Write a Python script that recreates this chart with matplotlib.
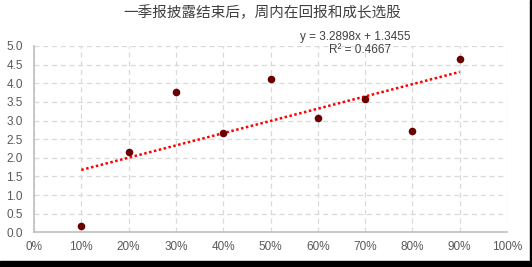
import matplotlib
matplotlib.use("Agg")
import matplotlib.pyplot as plt
from matplotlib.patches import Rectangle
from matplotlib.ticker import FuncFormatter, MultipleLocator
import numpy as np

title = "一季报披露结束后，周内在回报和成长选股"
x_vals = [0.1, 0.2, 0.3, 0.4, 0.5, 0.6, 0.7, 0.8, 0.9]
y_vals = [0.16, 2.16, 3.77, 2.67, 4.11, 3.06, 3.58, 2.73, 4.66]
eq_text = "y = 3.2898x + 1.3455"
r2_text = "R² = 0.4667"

plt.rcParams['font.family'] = ['Liberation Sans', 'Noto Sans CJK SC', 'DejaVu Sans']

W, H = 532, 267
fig = plt.figure(figsize=(W / 100, H / 100), dpi=100)
fig.patch.set_facecolor('white')

# axes in pixel coords: x 34..507, y 46..232
ax = fig.add_axes([34 / W, 1 - 232.3 / H, (507 - 34) / W, (232.3 - 46) / H])
ax.set_xlim(0, 1)
ax.set_ylim(0, 5)

xa = np.array(x_vals)
ya = np.array(y_vals)
k, b = np.polyfit(xa, ya, 1)
xl = np.array([xa.min(), xa.max()])
ax.plot(xl, k * xl + b, color='#FF0000', linestyle=(0, (1, 1)), linewidth=1.8, zorder=3)
ax.scatter(xa, ya, s=30, color='#6B0000', zorder=4, linewidths=0)

ax.xaxis.set_major_locator(MultipleLocator(0.1))
ax.yaxis.set_major_locator(MultipleLocator(0.5))
ax.xaxis.set_major_formatter(FuncFormatter(lambda v, p: f"{v*100:.0f}%"))
ax.yaxis.set_major_formatter(FuncFormatter(lambda v, p: f"{v:.1f}"))
ax.grid(True, color='#D9D9D9', linestyle=(0, (4, 3)), linewidth=0.9)
ax.set_axisbelow(True)
for s in ['top', 'right']:
    ax.spines[s].set_visible(False)
for s in ['left', 'bottom']:
    ax.spines[s].set_color('#BFBFBF')
    ax.spines[s].set_linewidth(1.2)
ax.tick_params(length=0, labelsize=8.5, colors='#595959', pad=6)
ax.tick_params(axis='y', pad=8)

fig.text(262 / W, 1 - 13 / H, title, ha='center', va='center', fontsize=10.5,
         color='#404040', family=['Noto Sans CJK SC', 'DejaVu Sans'])
fig.text(355 / W, 1 - 37 / H, eq_text, ha='center', va='center', fontsize=8.5, color='#404040')
fig.text(360 / W, 1 - 50 / H, r2_text, ha='center', va='center', fontsize=8.5, color='#404040')

# shadow border on right and bottom
fig.patches.append(Rectangle((0, 0), 1, 6 / H, transform=fig.transFigure, color='black', zorder=10))
fig.patches.append(Rectangle((1 - 2 / W, 0), 2 / W, 1, transform=fig.transFigure, color='black', zorder=10))

fig.savefig("out.png", dpi=100, facecolor='white')
